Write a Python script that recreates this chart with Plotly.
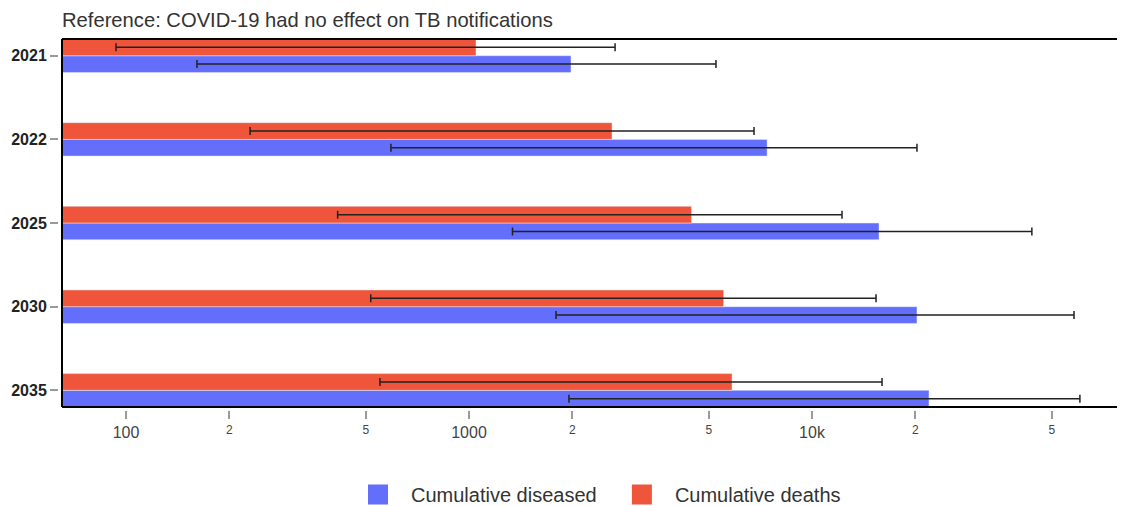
import plotly.graph_objects as go

years = ["2021", "2022", "2025", "2030", "2035"]
diseased = [1983, 7396, 15680, 20230, 21930]
diseased_lo = [161, 592, 1339, 1793, 1956]
diseased_hi = [5248, 20230, 43750, 58050, 60400]
deaths = [1048, 2612, 4454, 5525, 5846]
deaths_lo = [93.5, 230, 414, 517, 550]
deaths_hi = [2666, 6775, 12230, 15370, 16000]

BLUE = "#636efa"
RED = "#EF553B"
FONT = "Liberation Sans, Arial, sans-serif"

def err(v, lo, hi):
    return dict(type="data", symmetric=False,
                array=[h - x for x, h in zip(v, hi)],
                arrayminus=[x - l for x, l in zip(v, lo)],
                color="#222222", thickness=1.5, width=4)

fig = go.Figure()
fig.add_trace(go.Bar(name="Cumulative diseased", y=years, x=diseased, orientation="h",
                     marker_color=BLUE, error_x=err(diseased, diseased_lo, diseased_hi),
                     showlegend=False))
fig.add_trace(go.Bar(name="Cumulative deaths", y=years, x=deaths, orientation="h",
                     marker_color=RED, error_x=err(deaths, deaths_lo, deaths_hi),
                     showlegend=False))
# legend entries with larger square symbols
legend_names = ["Cumulative diseased\u00a0\u200a", "Cumulative deaths"]
for nm, c in zip(legend_names, [BLUE, RED]):
    fig.add_trace(go.Scatter(name=nm, x=[None], y=[None], mode="markers",
                             marker=dict(symbol="square", size=16, color=c,
                                         line=dict(width=4, color=c))))

W, H = 1117, 506
L, T = 50, 31
PLOT_L = 54          # plot-area left line, figure px
AX = 406             # plot-area bottom line, figure px
PB = 409             # x-axis tick start, figure px
PW = W - L
dom_y0 = (PB - AX) / (PB - T)
dom_x0 = (PLOT_L - L) / PW

fig.update_layout(
    width=W, height=H,
    margin=dict(l=L, r=0, t=T, b=H - PB, pad=0),
    barmode="group", bargap=0.6, bargroupgap=0,
    plot_bgcolor="white", paper_bgcolor="white",
    font=dict(family=FONT, color="#444444"),
    title=dict(text="Reference: COVID-19 had no effect on TB notifications",
               x=(62 - 8 - L) / PW, xref="paper", xanchor="left", y=1 - 12.3 / H,
               yref="container", yanchor="middle",
               font=dict(size=20.2, color="#333333", family=FONT)),
    legend=dict(orientation="h", x=(337 - L) / PW, xanchor="left",
                y=-(495 - PB) / (PB - T), yanchor="middle",
                font=dict(size=20, color="#333333", family=FONT),
                itemwidth=56),
    xaxis=dict(type="log", range=[1.8134, 4.9125], dtick="D2", domain=[dom_x0, 1],
               anchor="free", position=0,
               ticks="outside", ticklen=8, tickwidth=2, tickcolor="#999999",
               tickfont=dict(size=16, color="#444444"), showgrid=False, zeroline=False,
               showline=False),
    yaxis=dict(type="category", categoryorder="array", categoryarray=years[::-1],
               range=[-0.2, 4.2], domain=[dom_y0, 1], anchor="free", position=0,
               showline=False, ticks="outside", ticklen=8, tickwidth=2,
               tickcolor="#999999",
               tickfont=dict(size=16, color="#222222", weight="bold"), showgrid=False),
    shapes=[
        dict(type="line", xref="paper", yref="paper", x0=dom_x0, x1=1, y0=1, y1=1,
             line=dict(color="black", width=2)),
        dict(type="line", xref="paper", yref="paper", x0=dom_x0, x1=1, y0=dom_y0, y1=dom_y0,
             line=dict(color="black", width=2)),
        dict(type="line", xref="paper", yref="paper", x0=dom_x0, x1=dom_x0, y0=dom_y0, y1=1,
             line=dict(color="black", width=2)),
    ],
)

fig.write_html("out.html")
